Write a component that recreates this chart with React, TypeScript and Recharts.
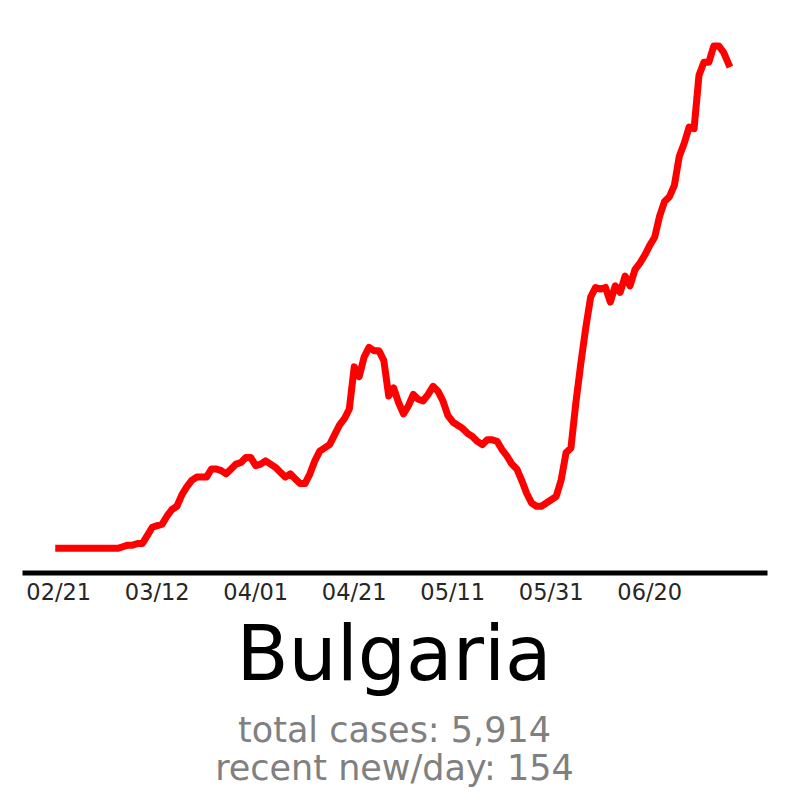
import React from 'react';
import { LineChart, Line, XAxis, YAxis } from 'recharts';

// daily new cases (smoothed), one value per day starting 02/21
const cases = [
  0, 0, 0, 0, 0, 0, 0, 0, 0, 0, 0, 0, 0, 0.5, 1, 1, 1.5, 1.5, 4, 6.5,
  7, 7.5, 10, 12, 13, 16.5, 19, 21, 22, 22, 22, 24.5, 24.5, 24, 23, 24.5, 26, 26.5, 28, 28,
  25.5, 26, 27, 26, 25, 23.5, 22, 23, 21.5, 20, 20, 23, 27, 30, 31, 32, 35, 38, 40, 43,
  56, 53, 59, 62, 61, 61, 58, 47, 49.5, 45, 41.5, 44, 47.5, 46, 45.5, 47.5, 50, 48.5, 45.5, 41,
  39, 38, 37, 35.5, 34.5, 33, 32, 33.5, 33.5, 33, 30.5, 28.5, 26, 24.5, 21, 17, 14, 13, 13, 14,
  15, 16, 21, 29.5, 31, 45, 57, 68, 77.5, 80.5, 80, 80.5, 76, 81, 79, 84, 81, 86, 88, 90.5,
  93.5, 96, 102.5, 107, 108.5, 112, 121, 125, 130, 129.5, 146, 150, 150, 155, 155, 153, 149.5,
];

const tickDays = [0, 20, 40, 60, 80, 100, 120];
const tickLabels = ['02/21', '03/12', '04/01', '04/21', '05/11', '05/31', '06/20'];
const yTicks = [0, 20, 40, 60, 80, 100, 120, 140, 160];

const title = 'Bulgaria';
const totalCases = 'total cases: 5,914';
const recentNew = 'recent new/day: 154';

const data = cases.map((v, i) => ({ day: i, value: v }));

const FONT = '"DejaVu Sans", sans-serif';

const YTickMark = (props: any) => (
  <rect x={27} y={props.y - 1} width={2.5} height={2} fill="#c8c8c8" />
);

const App: React.FC = () => {
  return (
    <div style={{ position: 'absolute', left: 0, top: 0, width: 800, height: 805, background: '#fff' }}>
      <LineChart
        width={800}
        height={620}
        data={data}
        margin={{ top: 22, right: 35, bottom: 17, left: 25 }}
      >
        <XAxis
          dataKey="day"
          type="number"
          domain={[-6.85, 143.4]}
          ticks={tickDays}
          tickFormatter={(d: number) => tickLabels[tickDays.indexOf(d)]}
          axisLine={{ stroke: '#000', strokeWidth: 5, strokeLinecap: 'square' }}
          tickLine={false}
          tickSize={0}
          tickMargin={11}
          height={30}
          tick={{ fill: '#262626', fontSize: 22.5, fontFamily: FONT }}
          allowDataOverflow
        />
        <YAxis
          type="number"
          domain={[-7.6, 162.4]}
          ticks={yTicks}
          width={0}
          axisLine={false}
          tickLine={false}
          tick={<YTickMark />}
          allowDataOverflow
        />
        <Line
          type="linear"
          dataKey="value"
          stroke="#ff0000"
          strokeWidth={7}
          strokeLinejoin="round"
          strokeLinecap="square"
          dot={false}
          isAnimationActive={false}
        />
      </LineChart>
      <svg
        width={800}
        height={805}
        style={{ position: 'absolute', left: 0, top: 0, pointerEvents: 'none' }}
      >
        <text x={394} y={680} textAnchor="middle" fontSize={76} fontFamily={FONT} fill="#000">
          {title}
        </text>
        <text x={394.5} y={742} textAnchor="middle" fontSize={35} fontFamily={FONT} fill="#808080">
          {totalCases}
        </text>
        <text x={394.5} y={780} textAnchor="middle" fontSize={35} fontFamily={FONT} fill="#808080">
          {recentNew}
        </text>
      </svg>
    </div>
  );
};

export default App;
